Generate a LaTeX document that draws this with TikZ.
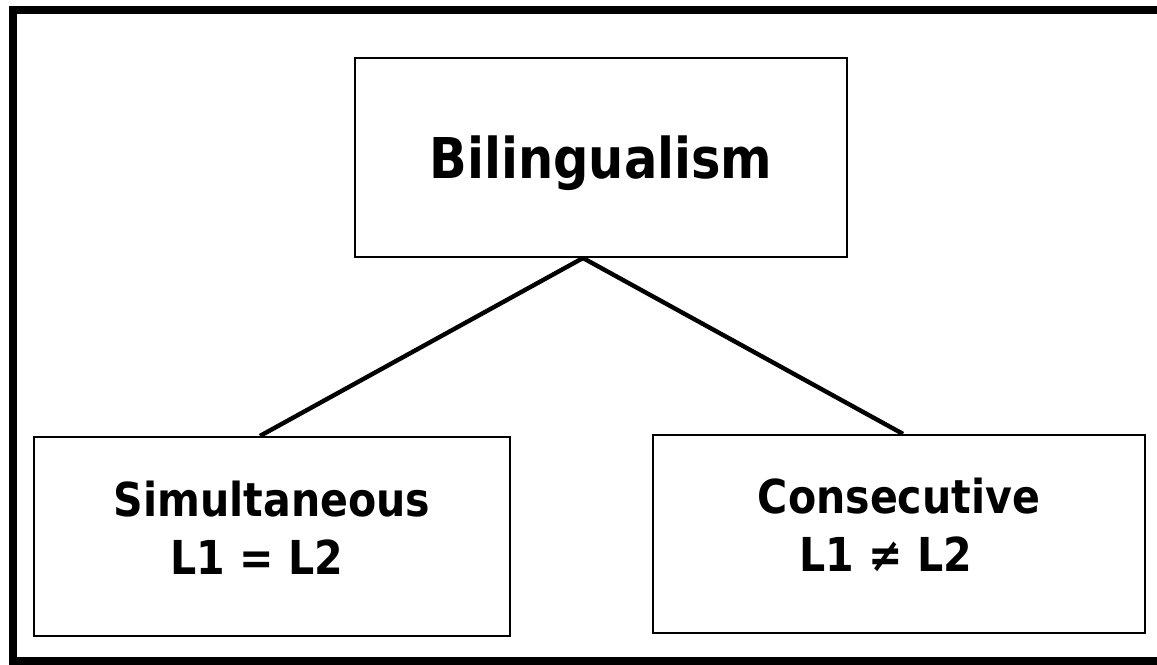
\documentclass[tikz,border=0pt]{standalone}
\usepackage{
	fontspec,			% System Fonts
	tikz
}
\newfontfamily\boxfont[FakeStretch=0.88]{DejaVu Sans}
\tikzset{
	box/.style={draw=black, line width=0.6pt, rectangle, align=center, inner sep=0pt},
	bigtext/.style={font=\boxfont\bfseries\fontsize{16}{19}\selectfont},
	smalltext/.style={font=\boxfont\bfseries\fontsize{13.3}{16.4}\selectfont},
	link/.style={line width=1.25pt}
}

\begin{document}
\begin{tikzpicture}
		\clip (0,0) rectangle (11.57,6.65);
		\useasboundingbox (0,0) rectangle (11.57,6.65);
		\draw[line width=0.08cm] (0.13,0.04) rectangle (11.67,6.55);
		\node[box, bigtext, minimum width=4.92cm, minimum height=1.99cm, text depth=0pt] (bil) at (6.01,5.075) {Bilingualism};
		\node[box, smalltext, minimum width=4.76cm, minimum height=1.99cm] (sim) at (2.72,1.285) {Simultaneous\\L1 = L2\kern0.3cm\rule[-0.17cm]{0pt}{0pt}};
		\node[box, smalltext, minimum width=4.92cm, minimum height=1.98cm] (con) at (8.99,1.31) {Consecutive\\L1 ≠ L2\kern0.26cm\rule[-0.18cm]{0pt}{0pt}};
		\draw[link] ([xshift=-0.18cm]bil.south) -- ([xshift=-0.12cm]sim.north);
		\draw[link] ([xshift=-0.18cm]bil.south) -- ([xshift=0.04cm]con.north);
\end{tikzpicture}
\end{document}
